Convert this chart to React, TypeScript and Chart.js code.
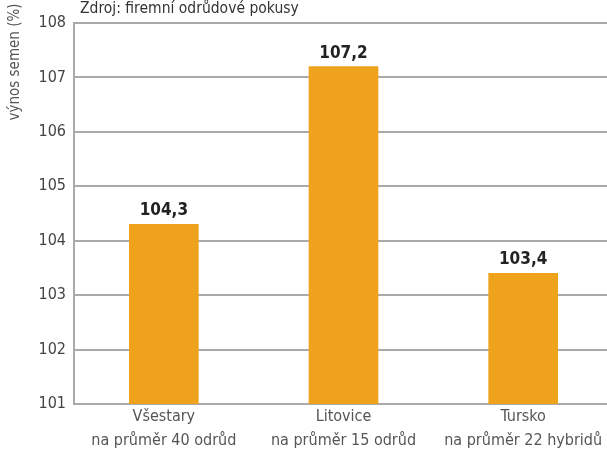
import React, { useEffect, useRef } from "react";
import { Chart, registerables } from "chart.js";

Chart.register(...registerables);

const categories: string[][] = [
  ["Všestary", "na průměr 40 odrůd"],
  ["Litovice", "na průměr 15 odrůd"],
  ["Tursko", "na průměr 22 hybridů"],
];
const values: number[] = [104.3, 107.2, 103.4];
const valueLabels: string[] = ["104,3", "107,2", "103,4"];
const yMin = 101;
const yMax = 108;
const sourceText = "Zdroj: firemní odrůdové pokusy";
const yTitle = "výnos semen (%)";

const FONT = '"Liberation Sans Narrow", "DejaVu Sans Condensed", "Arial Narrow", sans-serif';

const annotations = {
  id: "annotations",
  afterDatasetsDraw(chart: any) {
    const ctx = chart.ctx;
    ctx.save();
    const meta = chart.getDatasetMeta(0);
    ctx.font = `bold 17px ${FONT}`;
    ctx.fillStyle = "#222222";
    ctx.textAlign = "center";
    ctx.textBaseline = "alphabetic";
    meta.data.forEach((bar: any, i: number) => {
      ctx.fillText(valueLabels[i], bar.x, bar.y - 9);
    });
    ctx.font = `15.5px ${FONT}`;
    ctx.fillStyle = "#333333";
    ctx.textAlign = "left";
    ctx.fillText(sourceText, 80, 13);
    ctx.translate(15, 62);
    ctx.rotate(-Math.PI / 2);
    ctx.font = `15px ${FONT}`;
    ctx.fillStyle = "#555555";
    ctx.textAlign = "center";
    ctx.textBaseline = "middle";
    ctx.fillText(yTitle, 0, 0);
    ctx.restore();
  },
};

export default function App() {
  const ref = useRef<HTMLCanvasElement>(null);
  useEffect(() => {
    if (!ref.current) return;
    const chart = new Chart(ref.current, {
      type: "bar",
      data: {
        labels: categories,
        datasets: [
          {
            data: values,
            backgroundColor: "#EFA31C",
            barThickness: 69,
          },
        ],
      },
      options: {
        animation: false,
        responsive: false,
        maintainAspectRatio: false,
        layout: { padding: { top: 23, right: 0, left: 0, bottom: 0 } },
        plugins: {
          legend: { display: false },
          tooltip: { enabled: false },
        },
        scales: {
          x: {
            grid: { display: false, drawTicks: false },
            border: { color: "#aaaaaa", width: 2 },
            ticks: {
              color: "#555555",
              font: { family: FONT, size: 16, lineHeight: 1.5 },
              padding: 1,
              maxRotation: 0,
              autoSkip: false,
            },
            afterFit: (s: any) => {
              s.height = 48;
            },
          },
          y: {
            min: yMin,
            max: yMax,
            ticks: {
              stepSize: 1,
              color: "#444444",
              font: { family: FONT, size: 16 },
              padding: 8,
            },
            grid: { color: "#aaaaaa", lineWidth: 2, drawTicks: false },
            border: { color: "#aaaaaa", width: 2 },
            afterFit: (s: any) => {
              s.width = 74;
            },
          },
        },
      },
      plugins: [annotations],
    });
    return () => chart.destroy();
  }, []);
  return (
    <div
      style={{
        position: "absolute",
        left: 0,
        top: 0,
        width: 607,
        height: 452,
        overflow: "hidden",
        background: "#fff",
      }}
    >
      <canvas ref={ref} width={613} height={452} style={{ display: "block" }} />
    </div>
  );
}
